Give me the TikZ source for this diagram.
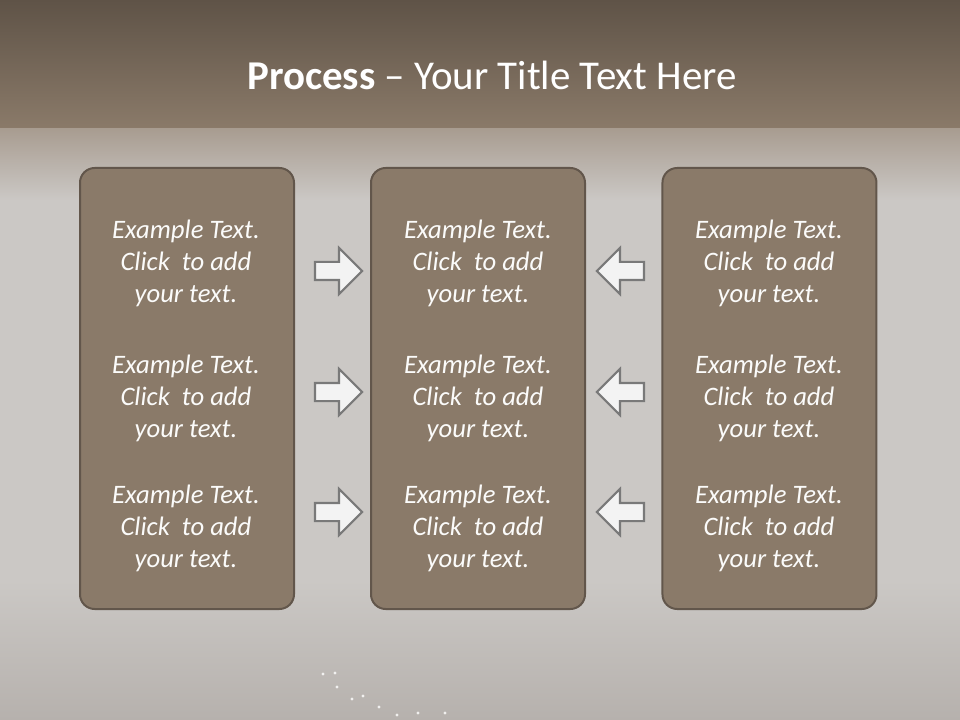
\documentclass[tikz,border=0pt]{standalone}
\usepackage{fontspec}
\setmainfont{Carlito}
\usetikzlibrary{positioning,shapes.arrows}
\definecolor{bandtop}{HTML}{5F5347}
\definecolor{bandbot}{HTML}{8A7A69}
\definecolor{bandfade}{HTML}{A89C90}
\definecolor{wallgray}{HTML}{CBC8C5}
\definecolor{walldark}{HTML}{B6B1AD}
\definecolor{panelfill}{HTML}{8A7A69}
\definecolor{paneledge}{HTML}{62564B}
\definecolor{arrowedge}{HTML}{797979}
\definecolor{arrowfill}{HTML}{F3F3F3}

\begin{document}
\begin{tikzpicture}[
  x=0.75pt, y=-0.75pt,
  panel/.style={draw=paneledge, line width=1.5pt, fill=panelfill, rounded corners=11pt,
                minimum width=160.5pt, minimum height=330.75pt, inner sep=0pt},
  blurb/.style={text=white!97!panelfill, font=\fontsize{20}{24}\selectfont\itshape, align=center},
  fwd/.style={single arrow, draw=arrowedge, line width=1.6pt, fill=arrowfill, inner sep=0pt,
              inner ysep=6pt, minimum height=35.25pt, single arrow head extend=10.5pt},
  bwd/.style={fwd, shape border rotate=180}
]
\useasboundingbox (0,0) rectangle (960,720);
% background
\fill[wallgray] (0,0) rectangle (960,720);
\shade[top color=bandfade, bottom color=wallgray] (0,128) rectangle (960,200);
\shade[top color=wallgray, bottom color=walldark] (0,580) rectangle (960,720);
\shade[top color=bandtop, bottom color=bandbot] (0,0) rectangle (960,128);
\foreach \sx/\sy in {323/674, 335/673, 337/687, 352/699, 363/696, 379/707, 397/715, 418/713, 445/713}
  \fill[white, opacity=0.8] (\sx,\sy) circle (1.2pt);

% title
\node[text=white, font=\fontsize{30.7}{36}\selectfont] (title) at (492,75) {\textbf{Process} -- Your Title Text Here};

% three columns
\node[panel] (colA) at (187,388.5) {};
\node[panel, right=56.25pt of colA] (colB) {};
\node[panel, right=56.6pt of colB] (colC) {};

\foreach \col/\x in {a/186, b/478, c/769}
  \foreach \row/\y in {1/263, 2/398, 3/528}
    \node[blurb] (\col\row) at (\x,\y) {Example Text.\\Click~ to add\\your text.};

% arrows into the middle
\foreach \row/\y in {1/271, 2/392, 3/512} {
  \node[fwd] (r\row) at (334,\y) {};
  \node[bwd] (l\row) at (625,\y) {};
}
\end{tikzpicture}
\end{document}
